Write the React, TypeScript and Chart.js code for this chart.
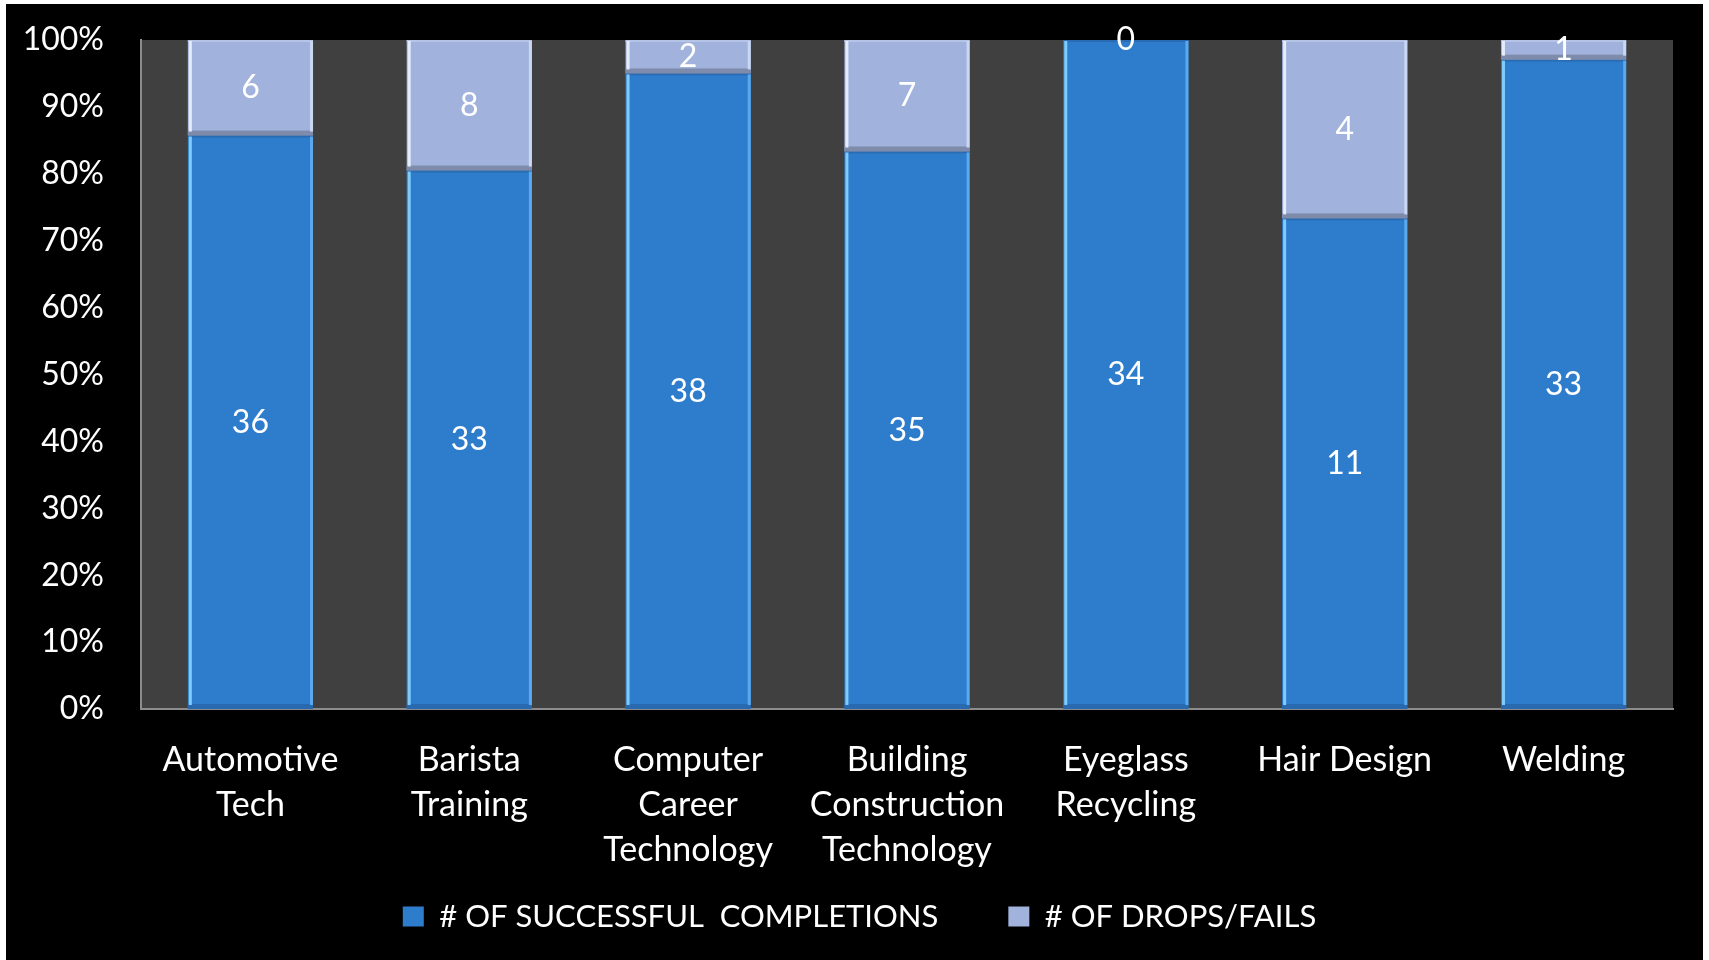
import React, { useEffect, useRef } from "react";
import { Chart, registerables } from "chart.js";

Chart.register(...registerables);

const categories: (string | string[])[] = [
  ["Automotive", "Tech"],
  ["Barista", "Training"],
  ["Computer", "Career", "Technology"],
  ["Building", "Construction", "Technology"],
  ["Eyeglass", "Recycling"],
  "Hair Design",
  "Welding",
];
const successful = [36, 33, 38, 35, 34, 11, 33];
const drops = [6, 8, 2, 7, 0, 4, 1];
const seriesNames = ["# OF SUCCESSFUL  COMPLETIONS", "# OF DROPS/FAILS"];
const seriesColors = ["#2E7DCD", "#A1B3DD"];

const FONT = "Lato";
const FS = 32;
const FS_LEG = 31;
const FS_CAT = 34;

const totals = successful.map((v, i) => v + drops[i]);
const pct = (arr: number[]) => arr.map((v, i) => (v / totals[i]) * 100);
const counts = [successful, drops];

const bevel = [
  { left: "#7FCBFA", right: "#5AA8EE", bottom: "#2869B0", top: "#2A6CB4" },
  { left: "#E4ECFB", right: "#C9D7F2", bottom: "#7E8BAA", top: "#B4C3E6" },
];

const plotBg = {
  id: "plotBg",
  beforeDraw(chart: any) {
    const { ctx, chartArea } = chart;
    ctx.save();
    ctx.fillStyle = "#404040";
    ctx.fillRect(chartArea.left, chartArea.top, chartArea.right - chartArea.left, chartArea.bottom - chartArea.top);
    ctx.restore();
  },
};

// Let the 3-line category labels extend below the x-axis box, and centre the legend
const layoutTweak = {
  id: "layoutTweak",
  afterLayout(chart: any) {
    const x = chart.scales.x;
    if (x) x.bottom = x.top + 175;
    const lg = chart.legend;
    if (lg) {
      lg.left += 20;
      lg.right += 20;
    }
  },
};

const bevelPlugin = {
  id: "bevel",
  afterDatasetsDraw(chart: any) {
    const ctx = chart.ctx;
    chart.data.datasets.forEach((_ds: any, di: number) => {
      const meta = chart.getDatasetMeta(di);
      const pal = bevel[di];
      meta.data.forEach((el: any) => {
        const { x, y, base, width } = el.getProps(["x", "y", "base", "width"], true);
        const l = x - width / 2;
        const r = x + width / 2;
        const t = Math.min(y, base);
        const b = Math.max(y, base);
        const h = b - t;
        if (h < 0.5) return;
        ctx.save();
        ctx.fillStyle = pal.top;
        ctx.fillRect(l, t, width, Math.min(2, h));
        ctx.fillStyle = pal.bottom;
        ctx.fillRect(l, b - Math.min(5, h), width, Math.min(5, h));
        ctx.fillStyle = pal.left;
        ctx.fillRect(l + 1, t + 1, 3, Math.max(0, h - 5));
        ctx.fillStyle = pal.right;
        ctx.fillRect(r - 3, t + 1, 3, Math.max(0, h - 5));
        ctx.restore();
      });
    });
  },
};

const labelPlugin = {
  id: "countLabels",
  afterDatasetsDraw(chart: any) {
    const ctx = chart.ctx;
    ctx.save();
    ctx.fillStyle = "#FFFFFF";
    ctx.font = `${FS}px ${FONT}`;
    ctx.textAlign = "center";
    ctx.textBaseline = "middle";
    chart.data.datasets.forEach((_ds: any, di: number) => {
      const meta = chart.getDatasetMeta(di);
      meta.data.forEach((el: any, i: number) => {
        const { x, y, base } = el.getProps(["x", "y", "base"], true);
        ctx.fillText(String(counts[di][i]), x, (y + base) / 2);
      });
    });
    ctx.restore();
  },
};

export default function App() {
  const ref = useRef<HTMLCanvasElement | null>(null);

  useEffect(() => {
    document.body.style.margin = "0";
    document.body.style.background = "#FFFFFF";
    if (!ref.current) return;
    const chart = new Chart(ref.current, {
      type: "bar",
      data: {
        labels: categories,
        datasets: [
          {
            label: seriesNames[0],
            data: pct(successful),
            backgroundColor: seriesColors[0],
            categoryPercentage: 1,
            barPercentage: 0.572,
          },
          {
            label: seriesNames[1],
            data: pct(drops),
            backgroundColor: seriesColors[1],
            categoryPercentage: 1,
            barPercentage: 0.572,
          },
        ],
      },
      options: {
        animation: false,
        responsive: true,
        maintainAspectRatio: false,
        layout: { padding: { top: 36, right: 30, left: 0, bottom: 18 } },
        plugins: {
          tooltip: { enabled: false },
          legend: {
            position: "bottom",
            labels: {
              color: "#FFFFFF",
              font: { family: FONT, size: FS_LEG },
              boxWidth: 21,
              boxHeight: 20,
              padding: 70,
            },
          },
        },
        scales: {
          x: {
            stacked: true,
            grid: { display: false, drawTicks: false },
            border: { display: true, color: "#8C8C8C", width: 2 },
            ticks: {
              color: "#FFFFFF",
              font: { family: FONT, size: FS_CAT, lineHeight: "45px" },
              padding: 29,
              maxRotation: 0,
              autoSkip: false,
            },
            afterFit(scale: any) {
              scale.height = 122;
            },
          },
          y: {
            stacked: true,
            min: 0,
            max: 100,
            grid: { display: false, drawTicks: false },
            border: { display: true, color: "#8C8C8C", width: 2 },
            ticks: {
              stepSize: 10,
              color: "#FFFFFF",
              font: { family: FONT, size: FS },
              padding: 37,
              callback: (v: any) => `${v}%`,
            },
            afterFit(scale: any) {
              scale.width = 135;
              scale.paddingTop = 0;
              scale.paddingBottom = 0;
            },
          },
        },
      },
      plugins: [plotBg, layoutTweak, bevelPlugin, labelPlugin],
    });
    return () => chart.destroy();
  }, []);

  return (
    <div
      style={{
        position: "absolute",
        left: 6,
        top: 4,
        width: 1697,
        height: 956,
        background: "#000000",
      }}
    >
      <canvas ref={ref} />
    </div>
  );
}
